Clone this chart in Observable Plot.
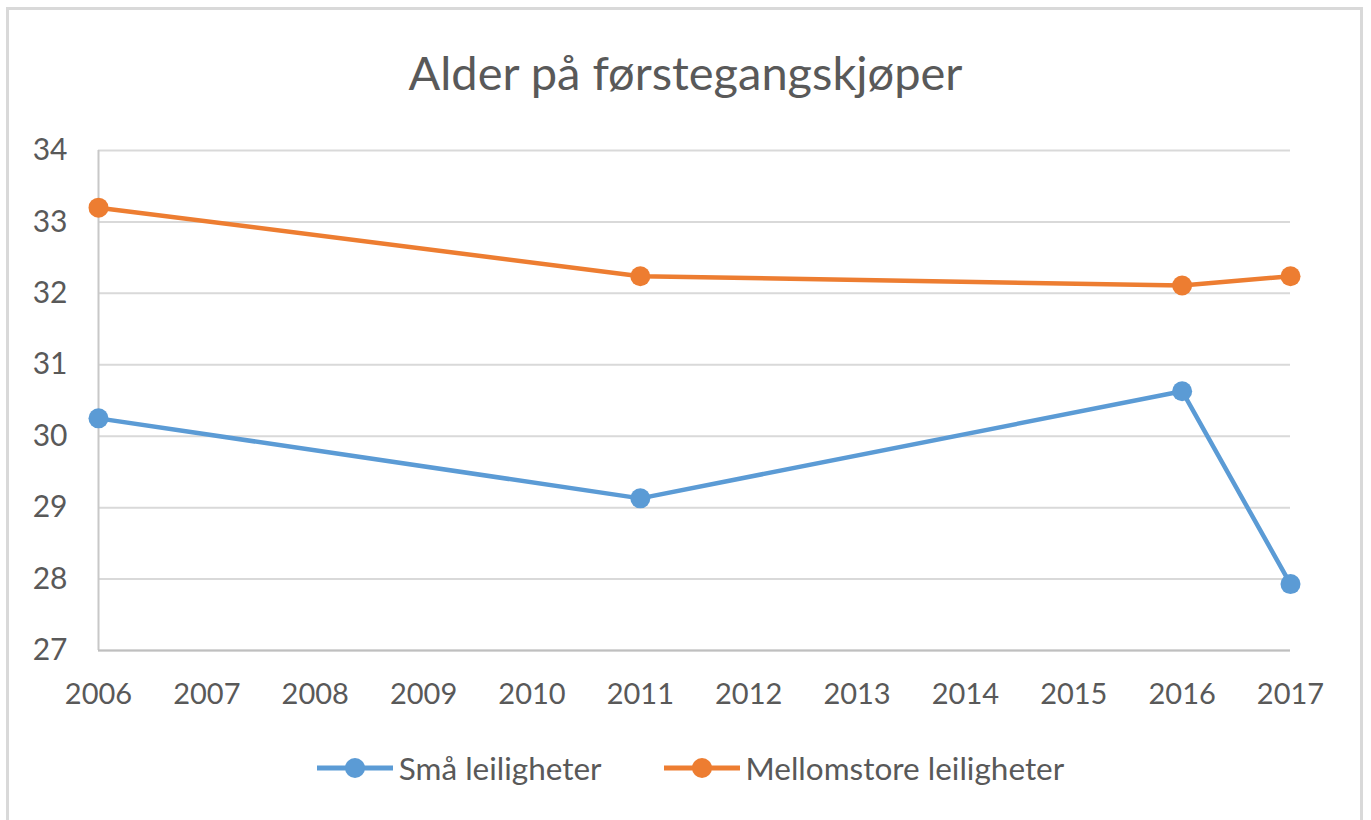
<!DOCTYPE html>
<html>
<head>
<meta charset="utf-8">
<script src="https://cdn.jsdelivr.net/npm/d3@7"></script>
<script src="https://cdn.jsdelivr.net/npm/@observablehq/plot@0.6"></script>
<style>
  html, body { margin: 0; padding: 0; background: #fff; overflow: hidden; width: 1371px; height: 820px; }
  #frame { position: absolute; left: 6px; top: 7px; width: 1357px; height: 900px; border: 3px solid #d9d9d9; box-sizing: border-box; }
  #title { position: absolute; left: 0; top: 44px; width: 1371px; text-align: center; font-family: Lato, sans-serif; font-size: 47px; color: #595959; }
  #chart { position: absolute; left: 0; top: 0; }
  #legend { position: absolute; left: 0; top: 749px; width: 1371px; display: flex; justify-content: center; align-items: center; gap: 62px; font-family: Lato, sans-serif; font-size: 31.5px; color: #595959; padding-left: 10px; box-sizing: border-box; }
  .item { display: flex; align-items: center; }
  .item svg { margin-right: 6px; }
</style>
</head>
<body>
<div id="frame"></div>
<div id="chart"></div>
<div id="title">Alder på førstegangskjøper</div>
<div id="legend"></div>
<script>
const years = [2006, 2011, 2016, 2017];
const smaValues = [30.25, 29.13, 30.63, 27.93];
const mellomValues = [33.2, 32.24, 32.11, 32.24];
const seriesNames = ["Små leiligheter", "Mellomstore leiligheter"];
const seriesColors = ["#5B9BD5", "#ED7D31"];
const xTicks = [2006, 2007, 2008, 2009, 2010, 2011, 2012, 2013, 2014, 2015, 2016, 2017];
const yTicks = [27, 28, 29, 30, 31, 32, 33, 34];

const rows = [
  ...years.map((y, i) => ({year: y, value: smaValues[i], series: seriesNames[0]})),
  ...years.map((y, i) => ({year: y, value: mellomValues[i], series: seriesNames[1]}))
];

const plot = Plot.plot({
  width: 1371,
  height: 720,
  marginTop: 150,
  marginBottom: 70,
  marginLeft: 98,
  marginRight: 81,
  style: { fontFamily: "Lato, sans-serif", background: "transparent" },
  x: { domain: [xTicks[0], xTicks[xTicks.length - 1]], ticks: xTicks, tickFormat: d => String(d), label: null },
  y: { domain: [yTicks[0], yTicks[yTicks.length - 1]], ticks: yTicks, tickFormat: d => String(d), label: null },
  color: { domain: seriesNames, range: seriesColors },
  marks: [
    Plot.gridY(yTicks, { stroke: "#d9d9d9", strokeOpacity: 1, strokeWidth: 2 }),
    Plot.ruleX([xTicks[0]], { stroke: "#c8c8c8", strokeWidth: 2 }),
    Plot.ruleY([yTicks[0]], { stroke: "#bfbfbf", strokeWidth: 2 }),
    Plot.axisY(yTicks, { tickSize: 0, tickPadding: 31, fontSize: 30, fill: "#595959", tickFormat: d => String(d), label: null }),
    Plot.axisX(xTicks, { tickSize: 0, tickPadding: 33, fontSize: 29, fill: "#595959", tickFormat: d => String(d), label: null }),
    Plot.line(rows, { x: "year", y: "value", z: "series", stroke: "series", strokeWidth: 4.5, curve: "linear" }),
    Plot.dot(rows, { x: "year", y: "value", fill: "series", r: 10 })
  ]
});
document.getElementById("chart").appendChild(plot);

const legend = document.getElementById("legend");
seriesNames.forEach((name, i) => {
  const item = document.createElement("div");
  item.className = "item";
  item.innerHTML = `<svg width="76" height="22"><line x1="0" y1="11" x2="76" y2="11" stroke="${seriesColors[i]}" stroke-width="5"/><circle cx="38" cy="11" r="10" fill="${seriesColors[i]}"/></svg><span>${name}</span>`;
  legend.appendChild(item);
});
</script>
</body>
</html>
